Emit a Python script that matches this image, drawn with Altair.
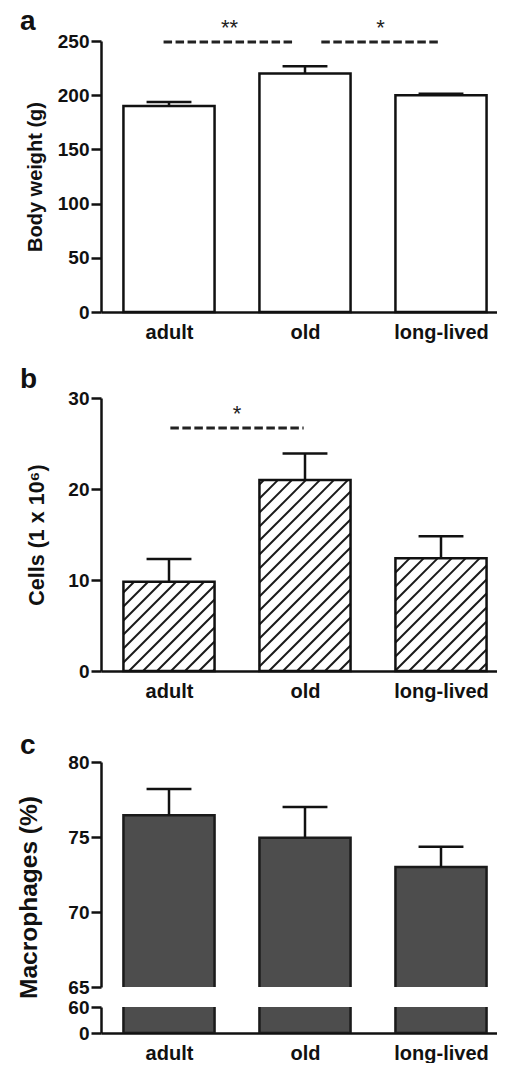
import json
import altair as alt
import pandas as pd

# ---------------- data ----------------
categories = ["adult", "old", "long-lived"]

body_weight = [190.0, 220.0, 200.0]
body_weight_err = [3.7, 6.7, 1.3]

cells = [9.8, 21.0, 12.4]
cells_err = [2.5, 2.9, 2.4]

macrophages = [76.45, 74.95, 73.0]
macrophages_err = [1.75, 2.05, 1.35]

# significance annotations (x in category-position units, y in data units)
sig_a_from = [0.46, 1.62]
sig_a_to = [1.43, 2.49]
sig_a_y = [249, 249]
sig_a_text = ["**", "*"]

sig_b_from = [0.51]
sig_b_to = [1.49]
sig_b_y = [26.7]
sig_b_text = ["*"]

# ---------------- style ----------------
FONT = "Liberation Sans"
INK = "#111111"
PX_PER_CAT = 136.0
W = 396
X_MAX = W / PX_PER_CAT
H_A, H_B, H_C, H_C2 = 271, 273, 225, 26
N = len(categories)
HALF_BAR = 0.335
HALF_CAP = 0.165
BREAK_LO, BREAK_HI = 60, 65
HATCH_SP = 14.0  # px between hatch lines (horizontal)

label_expr = json.dumps(categories).replace('"', "'") + "[floor(datum.value)]"


def frame(values, errors):
    pos = [i + 0.5 for i in range(N)]
    return pd.DataFrame({
        "cat": categories,
        "pos": pos,
        "xl": [p - HALF_BAR for p in pos],
        "xr": [p + HALF_BAR for p in pos],
        "cl": [p - HALF_CAP for p in pos],
        "cr": [p + HALF_CAP for p in pos],
        "value": values,
        "upper": [v + e for v, e in zip(values, errors)],
    })


def sig_frame(x1, x2, y, t):
    return pd.DataFrame({"x1": x1, "x2": x2, "y": y, "t": t,
                         "mid": [(a + b) / 2 for a, b in zip(x1, x2)]})


def X(field, show):
    if show:
        axis = alt.Axis(values=[i + 0.5 for i in range(N)], labelExpr=label_expr,
                        ticks=False, labelPadding=10, labelFontSize=20, title=None,
                        grid=False, labelFlush=False)
    else:
        axis = None
    return alt.X(field, type="quantitative",
                 scale=alt.Scale(domain=[0, X_MAX], nice=False, zero=False), axis=axis)


def Y(field, domain, values, title, tpad, tsize, titleY=None):
    ax = dict(values=values, title=title, titlePadding=tpad, labelOverlap=False,
              grid=False, titleFontSize=tsize)
    if titleY is not None:
        ax["titleY"] = titleY
    return alt.Y(field, type="quantitative",
                 scale=alt.Scale(domain=domain, nice=False, zero=False), axis=alt.Axis(**ax))


def letter(t, off):
    return alt.TitleParams(text=t, anchor="start", frame="group", dx=-81, fontSize=28,
                           fontWeight="bold", font=FONT, color=INK, offset=off)


def error_layers(df, xs, yf):
    stem = alt.Chart(df).mark_rule(color=INK, strokeWidth=2.5).encode(
        x=X("pos", xs), y=yf("value"), y2="upper")
    cap = alt.Chart(df).mark_rule(color=INK, strokeWidth=2.5).encode(
        x=X("cl", xs), x2="cr", y=yf("upper"))
    return [stem, cap]


def sig_layers(sdf, xs, yf):
    line = alt.Chart(sdf).mark_rule(color="#222", strokeWidth=3, strokeDash=[8.5, 3.5]).encode(
        x=X("x1", xs), x2="x2", y=yf("y"))
    star = alt.Chart(sdf).mark_text(font=FONT, fontSize=22, color="#222", dy=-7,
                                    baseline="alphabetic").encode(
        x=X("mid", xs), y=yf("y"), text="t:N")
    return [line, star]


# ---------------- panel a ----------------
dfa = frame(body_weight, body_weight_err)
ya = lambda f: Y(f, [0, 250], [0, 50, 100, 150, 200, 250], "Body weight (g)", 12, 20)
bars_a = alt.Chart(dfa).mark_bar(fill="white", stroke=INK, strokeWidth=2.5).encode(
    x=X("xl", True), x2="xr", y=ya("value"), y2=alt.Y2(datum=0))
panel_a = alt.layer(bars_a, *error_layers(dfa, True, ya), *sig_layers(
    sig_frame(sig_a_from, sig_a_to, sig_a_y, sig_a_text), True, ya)).properties(
    width=W, height=H_A, title=letter("a", -19))

# ---------------- panel b ----------------
dfb = frame(cells, cells_err)
yb = lambda f: Y(f, [0, 30], [0, 10, 20, 30], "Cells (1 x 10\u2076)", 19, 21.5)

px_x = PX_PER_CAT
px_y = H_B / 30.0
segs = []
for i in range(N):
    u0, u1, h = dfb.xl[i] * px_x, dfb.xr[i] * px_x, dfb.value[i] * px_y
    k = int((u0 - h) // HATCH_SP) - 1
    while k * HATCH_SP < u1:
        t = k * HATCH_SP
        lo, hi = max(u0, t), min(u1, t + h)
        if hi - lo > 0.5:
            segs.append({"hx1": lo / px_x, "hy1": (lo - t) / px_y,
                         "hx2": hi / px_x, "hy2": (hi - t) / px_y})
        k += 1
hatch_df = pd.DataFrame(segs)

base_b = alt.Chart(dfb).mark_bar(fill="white", strokeWidth=0).encode(
    x=X("xl", True), x2="xr", y=yb("value"), y2=alt.Y2(datum=0))
hatch = alt.Chart(hatch_df).mark_rule(color="#1a1a1a", strokeWidth=2).encode(
    x=X("hx1", True), x2="hx2", y=yb("hy1"), y2="hy2")
outline_b = alt.Chart(dfb).mark_bar(fillOpacity=0, stroke=INK, strokeWidth=2.5).encode(
    x=X("xl", True), x2="xr", y=yb("value"), y2=alt.Y2(datum=0))
panel_b = alt.layer(base_b, hatch, outline_b, *error_layers(dfb, True, yb), *sig_layers(
    sig_frame(sig_b_from, sig_b_to, sig_b_y, sig_b_text), True, yb)).properties(
    width=W, height=H_B, title=letter("b", -5))

# ---------------- panel c (broken axis) ----------------
dfc = frame(macrophages, macrophages_err)
yc = lambda f: Y(f, [BREAK_HI, 80], [65, 70, 75, 80], "Macrophages (%)", 26, 24.5, titleY=135)
bars_c = alt.Chart(dfc).mark_bar(fill="#4d4d4d", stroke="#1a1a1a", strokeWidth=2.5,
                                 clip=True).encode(
    x=X("xl", False), x2="xr", y=yc("value"), y2=alt.Y2(datum=BREAK_LO))
panel_c_top = alt.layer(bars_c, *error_layers(dfc, False, yc)).properties(
    width=W, height=H_C, title=letter("c", -7))

bars_c2 = alt.Chart(dfc).mark_bar(fill="#4d4d4d", stroke="#1a1a1a", strokeWidth=2.5,
                                  clip=True).encode(
    x=X("xl", True), x2="xr",
    y=alt.Y(datum=BREAK_HI, type="quantitative",
            scale=alt.Scale(domain=[0, BREAK_LO], nice=False),
            axis=alt.Axis(values=[0, 60], title=None, labelOverlap=False, grid=False)),
    y2=alt.Y2(datum=0))
panel_c_bot = bars_c2.properties(width=W, height=H_C2)

c_group = alt.vconcat(panel_c_top, panel_c_bot, spacing=20, bounds="flush")
bc = alt.vconcat(panel_b, c_group, spacing=91, bounds="flush")
chart = alt.vconcat(panel_a, bc, spacing=86, bounds="flush").properties(
    padding={"left": 8, "top": 0, "right": 0, "bottom": 0})

chart = chart.configure_view(stroke=None).configure_axis(
    domainColor=INK, domainWidth=2.5, tickColor=INK, tickWidth=2.5, tickSize=10,
    labelColor=INK, labelFont=FONT, labelFontWeight="bold", labelFontSize=19,
    labelPadding=2, titleFont=FONT, titleFontWeight="bold", titleFontSize=21,
    titleColor=INK, grid=False)

chart.save("out.html", embed_options={"renderer": "svg", "actions": False})
